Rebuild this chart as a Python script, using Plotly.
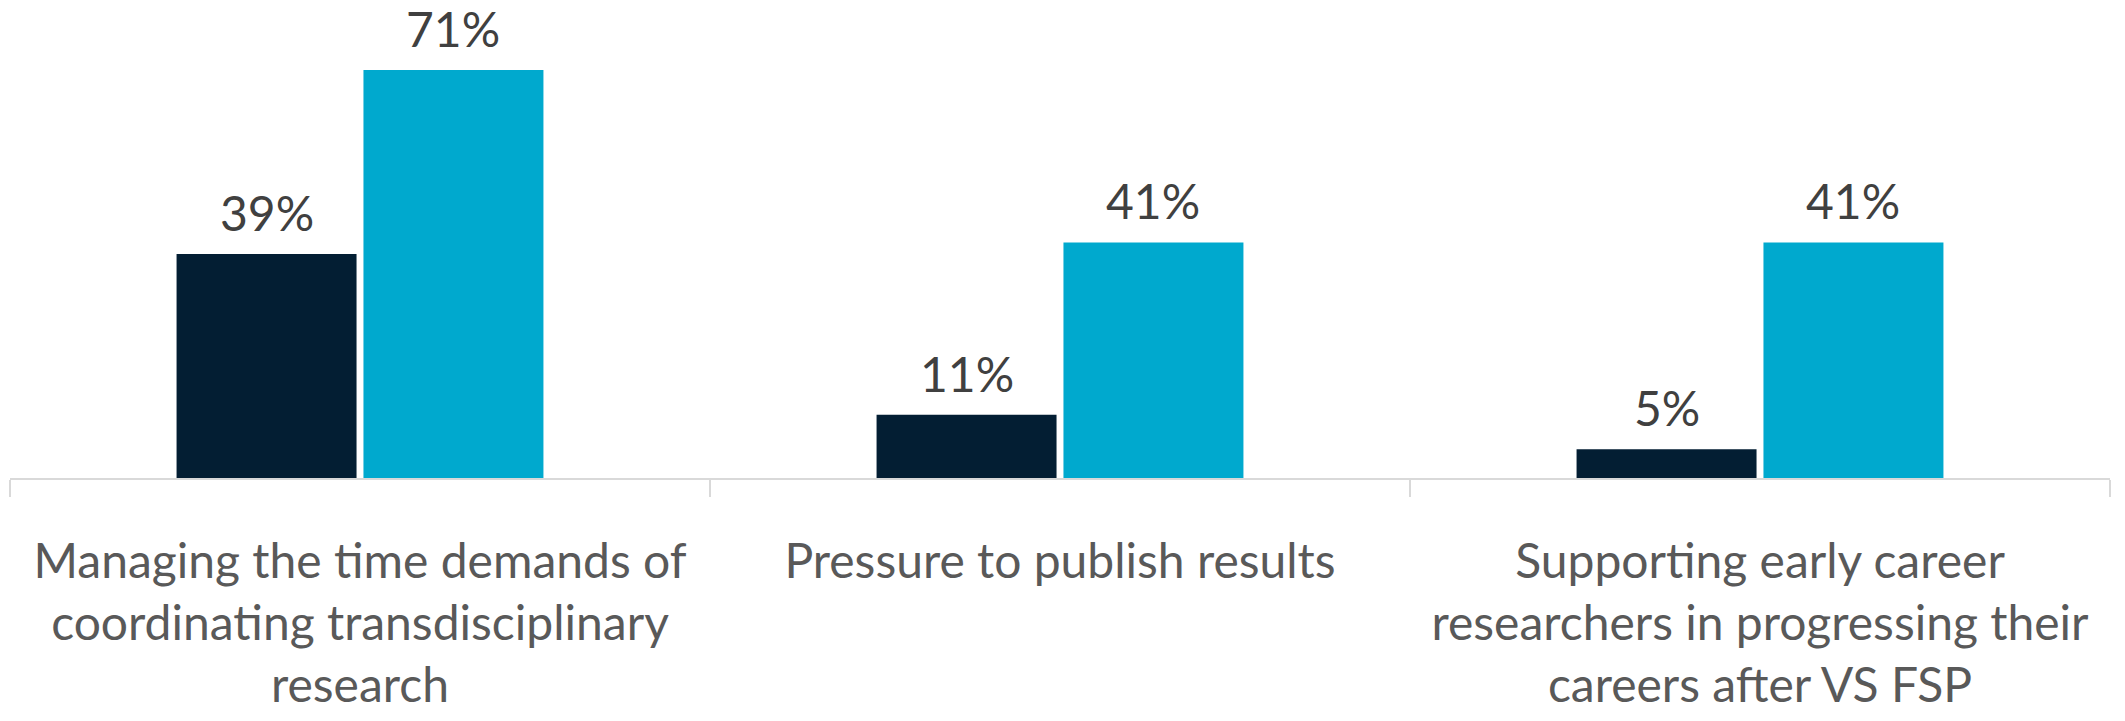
import plotly.graph_objects as go

categories = [
    "Managing the time demands of<br>coordinating transdisciplinary<br>research",
    "Pressure to publish results",
    "Supporting early career<br>researchers in progressing their<br>careers after VS FSP",
]
series_a = [39, 11, 5]
series_b = [71, 41, 41]
series_names = ["Series A", "Series B"]
colors = ["#031E33", "#00A9CE"]

FONT = "Lato"
BARGAP = 0.466
BARGROUPGAP = 0.037

fig = go.Figure()
for name, vals, col in zip(series_names, [series_a, series_b], colors):
    fig.add_trace(go.Bar(x=categories, y=vals, name=name,
                         marker=dict(color=col, line=dict(width=0)),
                         hoverinfo="skip"))

# value labels above each bar, centred on the bar slot
slot = (1 - BARGAP) / 2
for k, vals in enumerate([series_a, series_b]):
    for i, v in enumerate(vals):
        fig.add_annotation(x=i + (k - 0.5) * slot, y=v, xref="x", yref="y",
                           text=f"{v}%", showarrow=False, yanchor="bottom",
                           yshift=11, font=dict(family=FONT, size=48, color="#404040"))

fig.update_layout(
    width=2125, height=721,
    margin=dict(l=10, r=15, t=0, b=243, autoexpand=False),
    paper_bgcolor="white", plot_bgcolor="white",
    barmode="group", bargap=BARGAP, bargroupgap=BARGROUPGAP,
    showlegend=False,
    font=dict(family=FONT, size=48, color="#595959"),
)
fig.update_xaxes(
    type="category", automargin=False,
    showline=True, linecolor="#D9D9D9", linewidth=2,
    ticks="outside", tickson="boundaries", ticklen=17, tickcolor="#D9D9D9", tickwidth=2,
    ticklabelstandoff=40,
    showgrid=False, zeroline=False,
    tickfont=dict(family=FONT, size=48, color="#595959"),
)
fig.update_yaxes(range=[0, 83.2], visible=False, showgrid=False, zeroline=False,
                 automargin=False)

fig.write_html("out.html")
